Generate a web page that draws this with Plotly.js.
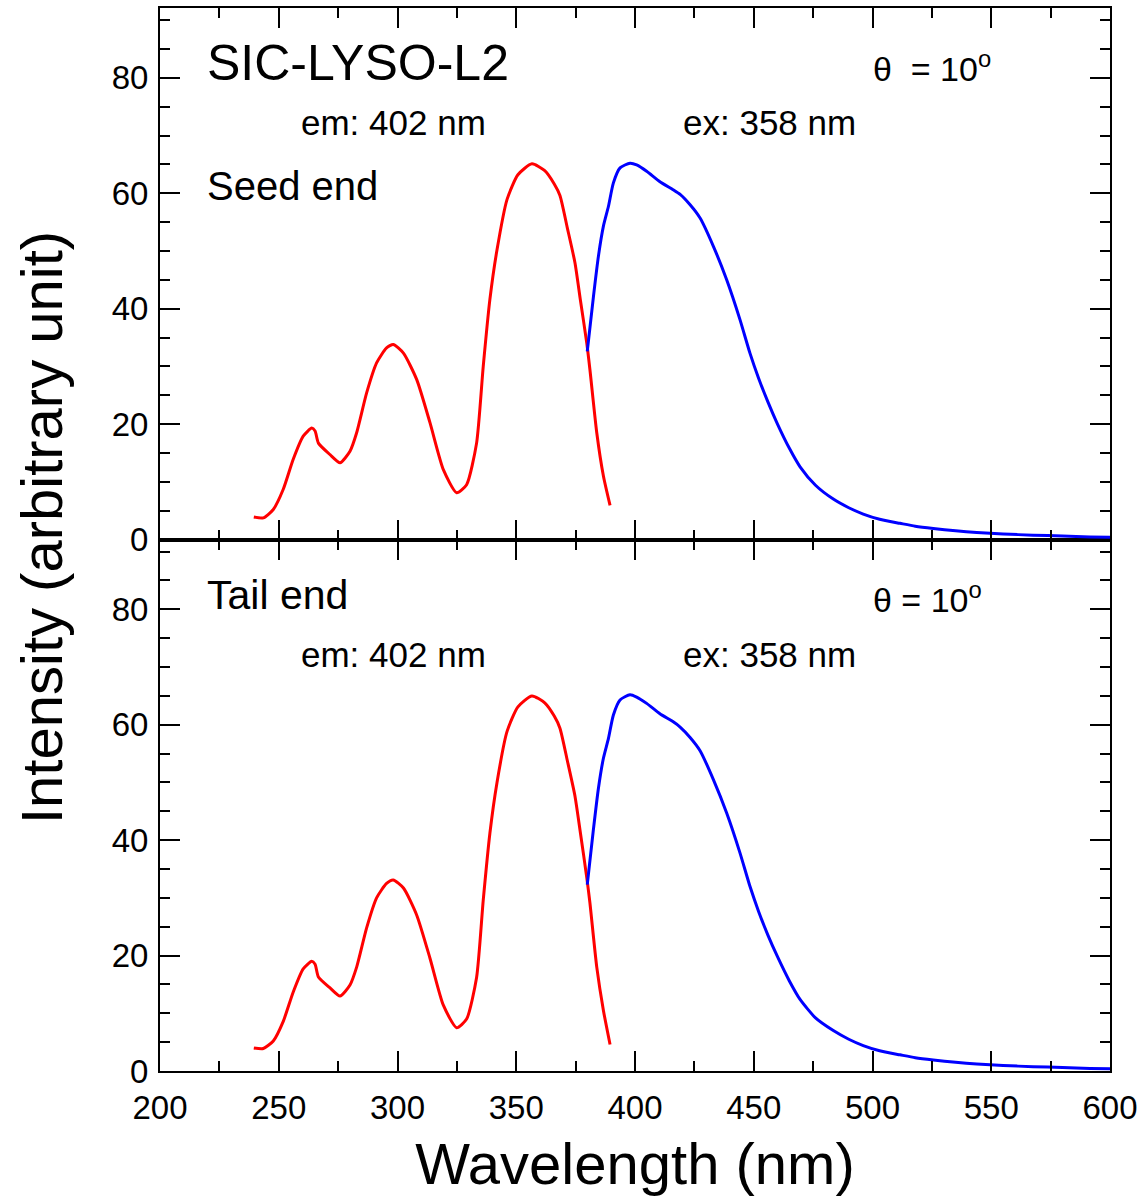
<!DOCTYPE html>
<html>
<head>
<meta charset="utf-8">
<script src="https://cdn.plot.ly/plotly-3.0.1.min.js"></script>
<style>html,body{margin:0;padding:0;background:#fff;}#chart{width:1142px;height:1196px;}</style>
</head>
<body>
<div id="chart"></div>
<script>
// Excitation spectra (em: 402 nm), red
const exWavelength = [239.5, 243.5, 247.7, 251.9, 256.1, 260.3, 263.9, 265.3, 266.7, 271.6, 275.8, 280, 282.8, 287, 291.2, 295.4, 298.2, 302.5, 308.1, 313.7, 319.3, 324.9, 329.1, 333.3, 336.1, 338.9, 341.9, 346.1, 350.7, 356.6, 362, 366, 368.4, 371.5, 374.7, 377, 379.7, 381, 383.9, 386.7, 389.5];
const exSeed = [3.9, 3.75, 5.2, 8.7, 13.9, 17.9, 19.3, 18.8, 16.7, 14.7, 13.3, 15.3, 18.5, 25.4, 30.6, 33.2, 33.8, 32.3, 27.7, 20.2, 12.1, 8.1, 9.5, 16.7, 30.0, 41.6, 50.2, 58.9, 63.2, 65.1, 63.9, 61.6, 59.6, 54.0, 48.0, 41.5, 34.0, 29.5, 18.5, 11.0, 5.9];
const exTail = [4.0, 3.9, 5.2, 8.6, 13.7, 17.7, 19.0, 18.5, 16.3, 14.4, 13.0, 14.9, 18.0, 24.8, 30.0, 32.5, 33.1, 31.7, 27.0, 19.5, 11.4, 7.5, 9.0, 16.2, 29.6, 41.2, 50.0, 58.8, 63.1, 65.0, 63.8, 61.5, 59.4, 53.8, 47.7, 41.3, 33.5, 29.2, 18.0, 10.5, 4.6];
// Emission spectra (ex: 358 nm), blue
const emWavelength = [379.9, 382.5, 384.6, 386.7, 388.8, 390.9, 393.7, 397.9, 400.7, 404.9, 410.5, 416.1, 419, 423.2, 427.4, 433, 438.6, 444.2, 448.4, 452, 456, 460, 465, 469.5, 476, 483.5, 490, 496.1, 503, 511.6, 518, 525.6, 535, 543.9, 555, 567.6, 580, 591.6, 600];
const emSeed = [32.6, 42.1, 49.1, 54.3, 57.7, 61.8, 64.4, 65.2, 64.9, 63.8, 62.0, 60.6, 59.8, 58.0, 55.7, 50.8, 45.0, 38.1, 32.3, 28.0, 23.8, 20.0, 15.8, 12.6, 9.4, 7.0, 5.5, 4.4, 3.5, 2.8, 2.3, 1.9, 1.5, 1.2, 0.95, 0.75, 0.6, 0.45, 0.4];
const emTail = [32.3, 41.9, 49.0, 54.2, 57.6, 61.7, 64.3, 65.2, 64.8, 63.7, 61.9, 60.5, 59.6, 57.8, 55.5, 50.5, 44.7, 37.8, 32.0, 27.7, 23.5, 19.8, 15.6, 12.4, 9.2, 7.0, 5.5, 4.4, 3.5, 2.8, 2.3, 1.9, 1.5, 1.2, 0.95, 0.75, 0.6, 0.45, 0.4];

const FONT = 'Liberation Sans, Arial, Helvetica, sans-serif';
const line = (c) => ({color: c, width: 3, shape: 'spline', smoothing: 0.6});

const traces = [
  {x: exWavelength, y: exSeed, xaxis: 'x2', yaxis: 'y2', mode: 'lines', line: line('#ff0000'), name: 'em 402 seed'},
  {x: emWavelength, y: emSeed, xaxis: 'x2', yaxis: 'y2', mode: 'lines', line: line('#0000ff'), name: 'ex 358 seed'},
  {x: exWavelength, y: exTail, xaxis: 'x', yaxis: 'y', mode: 'lines', line: line('#ff0000'), name: 'em 402 tail'},
  {x: emWavelength, y: emTail, xaxis: 'x', yaxis: 'y', mode: 'lines', line: line('#0000ff'), name: 'ex 358 tail'}
];

const xCommon = {
  range: [200, 600], tick0: 200, dtick: 50,
  ticks: 'inside', ticklen: 20, tickwidth: 2, tickcolor: '#000',
  minor: {dtick: 25, tick0: 200, ticks: 'inside', ticklen: 10, tickwidth: 2, tickcolor: '#000'},
  showline: true, linewidth: 2, linecolor: '#000', mirror: 'allticks',
  showgrid: false, zeroline: false, fixedrange: true
};
const yCommon = {
  range: [0, 92.1], tick0: 0, dtick: 20,
  ticks: 'inside', ticklen: 20, tickwidth: 2, tickcolor: '#000',
  minor: {dtick: 5, tick0: 0, ticks: 'inside', ticklen: 10, tickwidth: 2, tickcolor: '#000'},
  showline: true, linewidth: 2, linecolor: '#000', mirror: 'allticks',
  showgrid: false, zeroline: false,
  tickfont: {family: FONT, size: 33, color: '#000'}, ticklabelstandoff: 3
};

const ann = (x, y, xref, yref, text, size) => ({
  x: x, y: y, xref: xref, yref: yref, text: text, showarrow: false,
  xanchor: 'left', yanchor: 'middle', font: {family: FONT, size: size, color: '#000'}
});

const layout = {
  width: 1142, height: 1196,
  margin: {l: 160, r: 32, t: 8, b: 125},
  paper_bgcolor: '#fff', plot_bgcolor: '#fff',
  showlegend: false,
  font: {family: FONT, color: '#000'},
  xaxis: Object.assign({}, xCommon, {
    anchor: 'y', domain: [0, 1],
    tickfont: {family: FONT, size: 33, color: '#000'}, ticklabelstandoff: 6,
    title: {text: 'Wavelength (nm)', font: {family: FONT, size: 58, color: '#000'}, standoff: 20}
  }),
  xaxis2: Object.assign({}, xCommon, {anchor: 'y2', domain: [0, 1], showticklabels: false, matches: 'x'}),
  yaxis: Object.assign({}, yCommon, {anchor: 'x', domain: [0, 0.5]}),
  yaxis2: Object.assign({}, yCommon, {anchor: 'x2', domain: [0.5, 1]}),
  annotations: [
    ann(218.9, 82.6, 'x2', 'y2', 'SIC-LYSO-L2', 50),
    ann(258.5, 72.2, 'x2', 'y2', 'em: 402 nm', 35),
    ann(419.3, 72.2, 'x2', 'y2', 'ex: 358 nm', 35),
    ann(218.9, 61.3, 'x2', 'y2', 'Seed end', 40),
    ann(499.3, 81.9, 'x2', 'y2', 'θ\u00a0\u00a0= 10<sup>o</sup>', 34),
    ann(218.9, 82.4, 'x', 'y', 'Tail end', 41),
    ann(499.3, 82.1, 'x', 'y', 'θ = 10<sup>o</sup>', 34),
    ann(258.5, 72.2, 'x', 'y', 'em: 402 nm', 35),
    ann(419.3, 72.2, 'x', 'y', 'ex: 358 nm', 35),
    {x: -0.124, y: 0.511, xref: 'paper', yref: 'paper', text: 'Intensity (arbitrary unit)',
     textangle: -90, showarrow: false, xanchor: 'center', yanchor: 'middle',
     font: {family: FONT, size: 58, color: '#000'}}
  ]
};

Plotly.newPlot('chart', traces, layout, {staticPlot: true, displayModeBar: false});
</script>
</body>
</html>
